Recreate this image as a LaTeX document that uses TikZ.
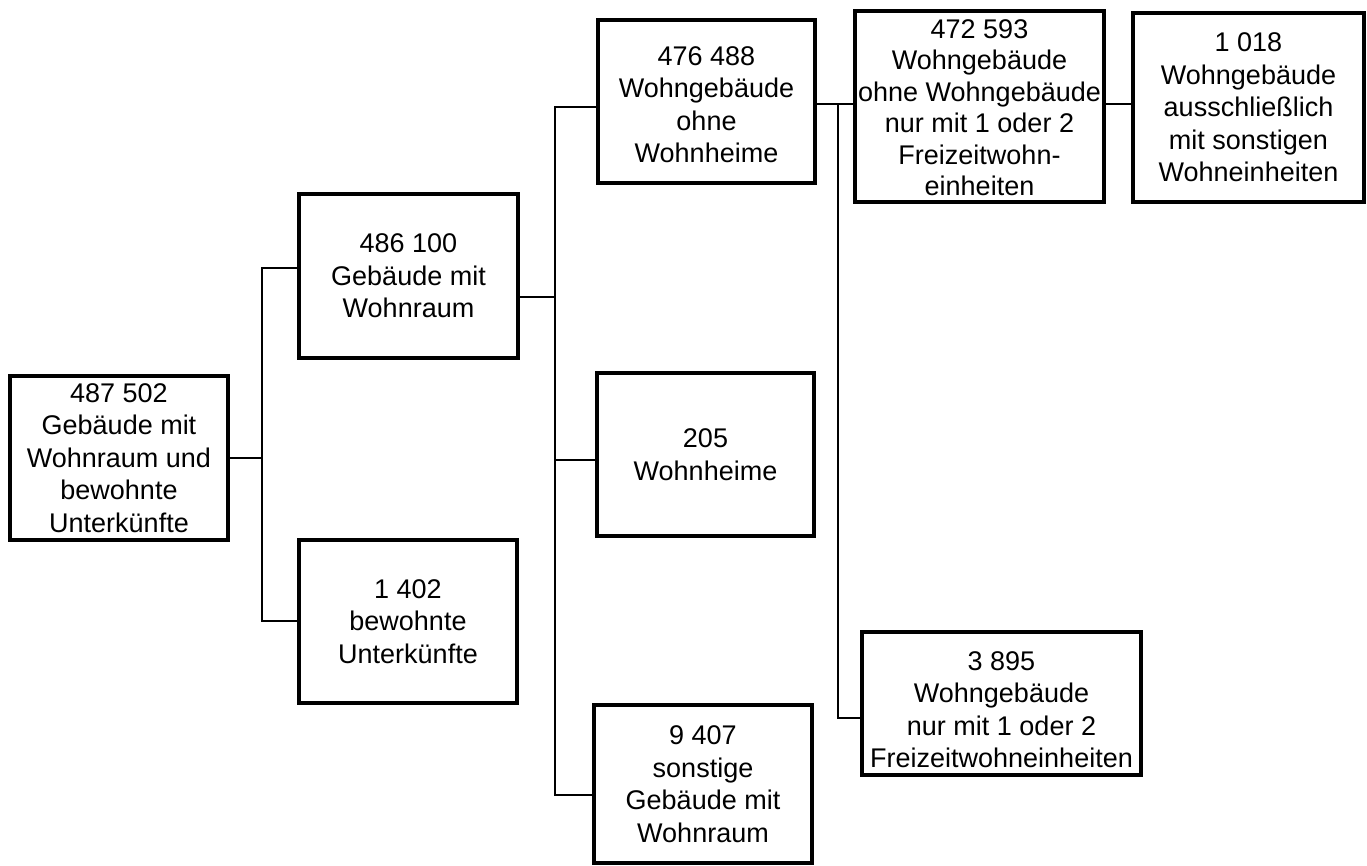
\documentclass[tikz,border=0pt]{standalone}
\usepackage{fontspec}
\setmainfont{Liberation Sans}
\newcommand{\lowerstack}[2]{\raisebox{#1}[\height][\depth]{\begin{tabular}{@{}c@{}}#2\end{tabular}}}
\begin{document}
\begin{tikzpicture}[x=1pt,y=-1pt,
  box/.style={draw, line width=3.2pt, align=center, inner sep=0pt,
    font=\fontsize{27}{32.5}\selectfont},
  conn/.style={draw, line width=2.6pt, line cap=rect}]
\useasboundingbox (0,0) rectangle (1367,865);
\node[box, minimum width=218, minimum height=164] (A) at (119,458)
  {487 502\\Gebäude mit\\Wohnraum und\\bewohnte\\Unterkünfte};
\node[box, minimum width=219, minimum height=164] (B) at (408.5,276)
  {486 100\\Gebäude mit\\Wohnraum};
\node[box, minimum width=218, minimum height=163] (C) at (408,621.5)
  {1 402\\bewohnte\\Unterkünfte};
\node[box, minimum width=217, minimum height=163] (D) at (706.5,101.5)
  {\lowerstack{-6pt}{476 488\\Wohngebäude\\ohne\\Wohnheime}};
\node[box, minimum width=217, minimum height=163] (E) at (705.5,454.5)
  {205\\Wohnheime};
\node[box, minimum width=218, minimum height=158] (F) at (703,784)
  {9 407\\sonstige\\Gebäude mit\\Wohnraum};
\node[box, minimum width=249, minimum height=191] (G) at (979.5,106.5)
  {\lowerstack{-4pt}{472 593\\[-1pt]Wohngebäude\\[-1pt]ohne Wohngebäude\\[-1pt]nur mit 1 oder 2\\[-1pt]Freizeitwohn-\\[-1pt]einheiten}};
\node[box, minimum width=231, minimum height=189] (H) at (1248.5,107.5)
  {1 018\\Wohngebäude\\ausschließlich\\mit sonstigen\\Wohneinheiten};
\node[box, minimum width=279, minimum height=143] (I) at (1001.5,703.5)
  {\lowerstack{-9pt}{3 895\\Wohngebäude\\nur mit 1 oder 2\\Freizeitwohneinheiten}};
% level 1
\coordinate (j1) at (262,268);
\coordinate (j2) at (262,621);
\draw[conn] (A.east) -- (A.east -| j1);
\draw[conn] (B.west |- j1) -- (j1) -- (j2) -- (C.west |- j2);
% level 2
\coordinate (k0) at (555,297);
\coordinate (k1) at (555,107);
\coordinate (k2) at (555,460);
\coordinate (k3) at (555,795);
\draw[conn] (B.east |- k0) -- (k0);
\draw[conn] (D.west |- k1) -- (k1) -- (k3) -- (F.west |- k3);
\draw[conn] (k2) -- (E.west |- k2);
% level 3
\coordinate (m1) at (838,104);
\coordinate (m2) at (838,718);
\draw[conn] (D.east |- m1) -- (G.west |- m1);
\draw[conn] (m1) -- (m2) -- (I.west |- m2);
\draw[conn] (G.east |- m1) -- (H.west |- m1);
\end{tikzpicture}
\end{document}
